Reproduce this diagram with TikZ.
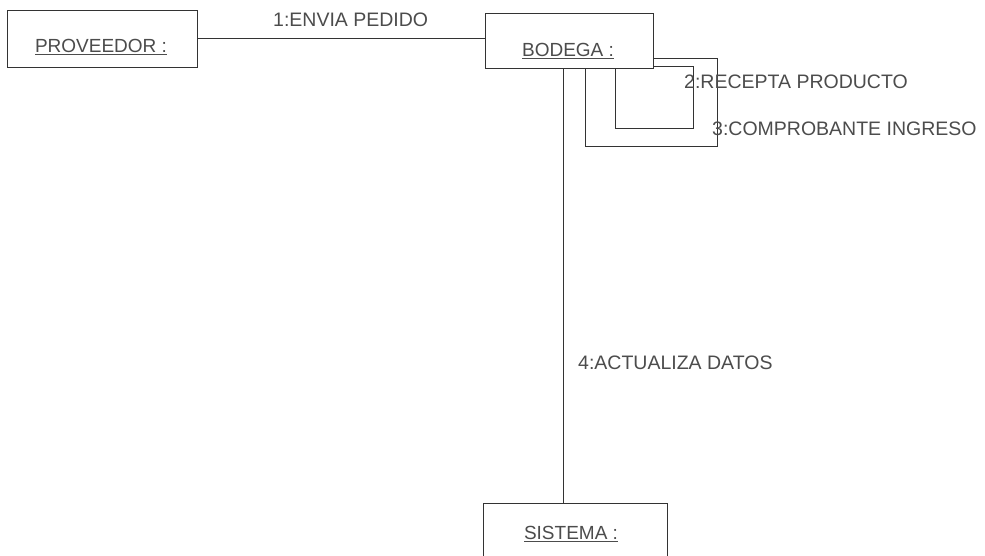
\documentclass[tikz,border=0pt]{standalone}
\usepackage{fontspec}
\setmainfont{Liberation Sans}
\begin{document}
\begin{tikzpicture}[x=1pt,y=-1pt,
  objbox/.style={draw=black!80, line width=0.9pt, inner sep=0pt},
  objtxt/.style={text=black!70, font=\fontsize{19}{19}\selectfont, inner sep=0pt},
  msgtxt/.style={text=black!70, font=\fontsize{19.5}{19.5}\selectfont, inner sep=0pt, anchor=west},
  link/.style={draw=black!80, line width=0.9pt}]
\clip (0,0) rectangle (985,556);
\fill[white] (0,0) rectangle (985,556);
% objects
\node[objbox, minimum width=190pt, minimum height=57pt] (prov) at (102,38.5) {};
\node[objtxt] (provt) at (101,47) {\underline{PROVEEDOR :}};
\node[objbox, minimum width=168pt, minimum height=55pt] (bod) at (569,40.5) {};
\node[objtxt] (bodt) at (568,51) {\underline{BODEGA :}};
\node[objbox, minimum width=184pt, minimum height=100pt] (sis) at (575,553) {};
\node[objtxt] (sist) at (571,534) {\underline{SISTEMA :}};
% connector 1
\draw[link] (prov.east) -- (prov.east -| bod.west);
\node[msgtxt] (m1) at (273,20) {1:ENVIA PEDIDO};
% self loops
\coordinate (o1) at (717,58);
\coordinate (o2) at (717,146);
\coordinate (o3) at (585,146);
\draw[link] (bod.east |- o1) -- (o1) -- (o2) -- (o3) -- (o3 |- bod.south);
\coordinate (i1) at (693,66);
\coordinate (i2) at (693,128);
\coordinate (i3) at (615,128);
\draw[link] (bod.east |- i1) -- (i1) -- (i2) -- (i3) -- (i3 |- bod.south);
\node[msgtxt] (m2) at (684,82) {2:RECEPTA PRODUCTO};
\node[msgtxt] (m3) at (712,129) {3:COMPROBANTE INGRESO};
% connector 4
\coordinate (v) at (563,0);
\draw[link] (v |- bod.south) -- (v |- sis.north);
\node[msgtxt] (m4) at (578,363) {4:ACTUALIZA DATOS};
\end{tikzpicture}
\end{document}
